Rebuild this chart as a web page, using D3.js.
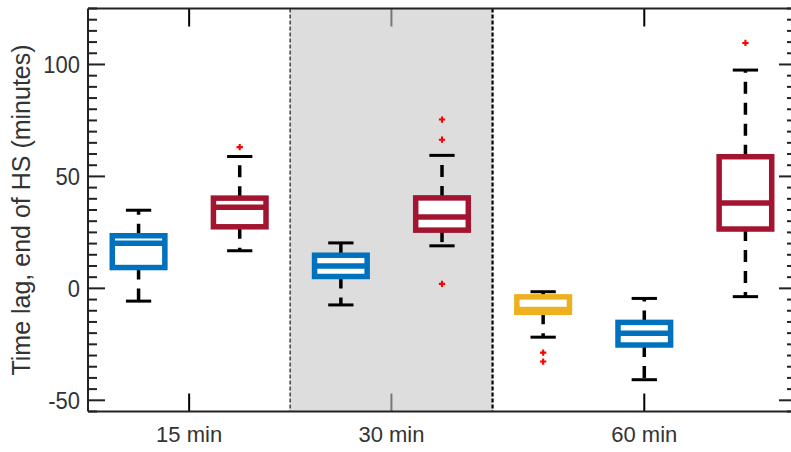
<!DOCTYPE html>
<html>
<head>
<meta charset="utf-8">
<script src="https://cdn.jsdelivr.net/npm/d3@7"></script>
<style>
  html, body { margin: 0; padding: 0; background: #fff; }
  svg { display: block; }
  text { font-family: "Liberation Sans", Arial, Helvetica, sans-serif; fill: #333; }
</style>
</head>
<body>
<svg id="chart" width="791" height="452"></svg>
<script>
// ---- data ----
const categories = ["15 min", "30 min", "60 min"];
const categoryPos = [0.5, 1.5, 2.75];
const groupEdges = [0, 1, 2, 3.5];
const boxPos = [0.25, 0.75, 1.25, 1.75, 2.25, 2.75, 3.25];
const boxSeries = ["blue", "red", "blue", "red", "yellow", "blue", "red"];
const lowerWhisker = [-5.7, 16.8, -7.4, 19.0, -21.8, -40.8, -3.7];
const q1Values     = [9.3, 27.5, 5.3, 26.0, -10.7, -25.3, 26.5];
const medianValues = [20.2, 36.2, 10.0, 31.9, -9.4, -20.0, 38.1];
const q3Values     = [23.5, 40.3, 14.8, 40.4, -3.8, -15.2, 58.8];
const upperWhisker = [34.9, 58.9, 20.3, 59.4, -1.5, -4.5, 97.5];
const outliers = [[], [63.1], [], [75.4, 66.4, 2.0], [-28.7, -32.7], [], [109.6]];
const yMajorTicks = [-50, 0, 50, 100];
const yLabel = "Time lag, end of HS (minutes)";

const seriesColor = { blue: "#0072BD", red: "#A2142F", yellow: "#EDB120" };

// ---- layout ----
const W = 791, H = 452;
const pLeft = 88, pRight = 796, pTop = 8.5, pBottom = 411.5;
const svg = d3.select("#chart");

const x = d3.scaleLinear().domain([0, 3.5]).range([pLeft, pRight]);
const y = d3.scaleLinear().domain([-55, 125]).range([pBottom, pTop]);

const boxW = 0.26, capW = 0.125;

// background
svg.append("rect").attr("x", 0).attr("y", 0).attr("width", W).attr("height", H).attr("fill", "#fff");

// group separator at x=1 (under shading)
svg.append("line")
  .attr("x1", x(groupEdges[1])).attr("x2", x(groupEdges[1]))
  .attr("y1", y(125)).attr("y2", y(-55))
  .attr("stroke", "#000").attr("stroke-width", 1.5).attr("stroke-dasharray", "4,2");

// category ticks (top and bottom, inward)
const catTicks = svg.append("g");
categoryPos.forEach(p => {
  catTicks.append("line").attr("x1", x(p)).attr("x2", x(p)).attr("y1", pBottom).attr("y2", pBottom - 18)
    .attr("stroke", "#000").attr("stroke-width", 2);
  catTicks.append("line").attr("x1", x(p)).attr("x2", x(p)).attr("y1", pTop).attr("y2", pTop + 18)
    .attr("stroke", "#000").attr("stroke-width", 2);
});

// shaded region 30 min
svg.append("rect")
  .attr("x", x(groupEdges[1])).attr("y", pTop)
  .attr("width", x(groupEdges[2]) - x(groupEdges[1])).attr("height", pBottom - pTop)
  .attr("fill", "rgb(198,198,198)").attr("fill-opacity", 0.6);

// separator at x=2 (on top)
svg.append("line")
  .attr("x1", x(groupEdges[2])).attr("x2", x(groupEdges[2]))
  .attr("y1", pTop).attr("y2", pBottom)
  .attr("stroke", "#000").attr("stroke-width", 2.2).attr("stroke-dasharray", "4,2");

// y ticks (left and right, inward)
const minorTicks = d3.range(-55, 126, 5).filter(v => !yMajorTicks.includes(v));
const yt = svg.append("g");
minorTicks.forEach(v => {
  yt.append("line").attr("x1", pLeft).attr("x2", pLeft + 9).attr("y1", y(v)).attr("y2", y(v))
    .attr("stroke", "#222").attr("stroke-width", 2);
  yt.append("line").attr("x1", pRight).attr("x2", pRight - 9).attr("y1", y(v)).attr("y2", y(v))
    .attr("stroke", "#222").attr("stroke-width", 2);
});
yMajorTicks.forEach(v => {
  yt.append("line").attr("x1", pLeft).attr("x2", pLeft + 17).attr("y1", y(v)).attr("y2", y(v))
    .attr("stroke", "#222").attr("stroke-width", 2);
  yt.append("line").attr("x1", pRight).attr("x2", pRight - 17).attr("y1", y(v)).attr("y2", y(v))
    .attr("stroke", "#222").attr("stroke-width", 2);
  yt.append("text").attr("x", pLeft - 8).attr("y", y(v)).attr("dy", "0.36em")
    .attr("text-anchor", "end").attr("font-size", 22)
    .attr("transform", `translate(0,${y(v)}) scale(1,1.08) translate(0,${-y(v)})`)
    .text(v);
});

// boxes
const boxes = svg.append("g");
boxPos.forEach((p, i) => {
  const col = seriesColor[boxSeries[i]];
  const cx = x(p);
  const capHalf = (x(capW) - x(0)) / 2;
  // whiskers
  boxes.append("line").attr("x1", cx).attr("x2", cx).attr("y1", y(q3Values[i])).attr("y2", y(upperWhisker[i]))
    .attr("stroke", "#000").attr("stroke-width", 3.5).attr("stroke-dasharray", "12,9");
  boxes.append("line").attr("x1", cx).attr("x2", cx).attr("y1", y(q1Values[i])).attr("y2", y(lowerWhisker[i]))
    .attr("stroke", "#000").attr("stroke-width", 3.5).attr("stroke-dasharray", "12,9");
  // caps
  [upperWhisker[i], lowerWhisker[i]].forEach(v => {
    boxes.append("line").attr("x1", cx - capHalf).attr("x2", cx + capHalf).attr("y1", y(v)).attr("y2", y(v))
      .attr("stroke", "#000").attr("stroke-width", 3);
  });
  // box
  const bx0 = x(p - boxW / 2), bx1 = x(p + boxW / 2);
  boxes.append("rect").attr("x", bx0).attr("y", y(q3Values[i]))
    .attr("width", bx1 - bx0).attr("height", y(q1Values[i]) - y(q3Values[i]))
    .attr("fill", "#fff").attr("stroke", col).attr("stroke-width", 5.5);
  // median
  boxes.append("line").attr("x1", bx0).attr("x2", bx1).attr("y1", y(medianValues[i])).attr("y2", y(medianValues[i]))
    .attr("stroke", col).attr("stroke-width", 5.5);
  // outliers
  outliers[i].forEach(v => {
    boxes.append("path").attr("d", d3.symbol(d3.symbolCross, 22)())
      .attr("transform", `translate(${cx},${y(v)})`).attr("fill", "#FF0000");
  });
});

// frame
svg.append("line").attr("x1", pLeft).attr("x2", pLeft).attr("y1", pTop).attr("y2", pBottom).attr("stroke", "#222").attr("stroke-width", 2);
svg.append("line").attr("x1", pLeft).attr("x2", pRight).attr("y1", pTop).attr("y2", pTop).attr("stroke", "#222").attr("stroke-width", 2);
svg.append("line").attr("x1", pLeft).attr("x2", pRight).attr("y1", pBottom).attr("y2", pBottom).attr("stroke", "#222").attr("stroke-width", 2);
svg.append("line").attr("x1", pRight).attr("x2", pRight).attr("y1", pTop).attr("y2", pBottom).attr("stroke", "#222").attr("stroke-width", 2);

// x labels
categories.forEach((c, i) => {
  svg.append("text").attr("x", x(categoryPos[i])).attr("y", 442)
    .attr("text-anchor", "middle").attr("font-size", 22).text(c);
});

// y label
svg.append("text")
  .attr("transform", `translate(30,${(pTop + pBottom) / 2}) rotate(-90)`)
  .attr("text-anchor", "middle").attr("font-size", 25).text(yLabel);
</script>
</body>
</html>
